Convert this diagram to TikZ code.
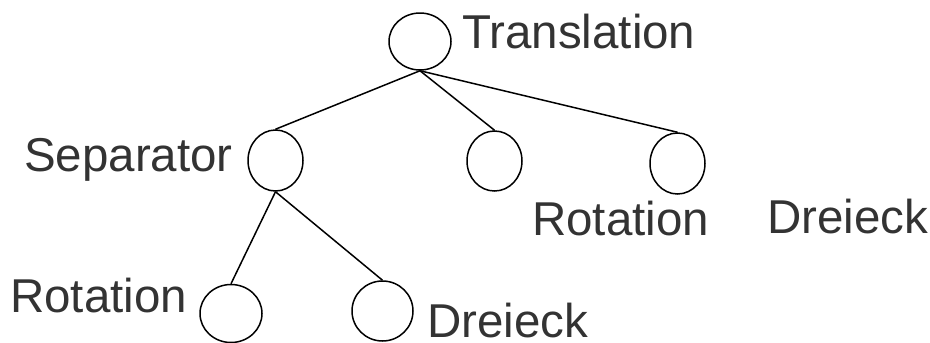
\documentclass[tikz,border=0pt]{standalone}
\usepackage{fontspec}
\setmainfont{Liberation Sans}
\usetikzlibrary{shapes.geometric}
\definecolor{txt}{HTML}{333333}
\begin{document}
\begin{tikzpicture}[x=1pt,y=-1pt,
  tnode/.style={draw=black,line width=1.5pt,ellipse,inner sep=0pt},
  lbl/.style={anchor=base west,inner sep=0pt,text=txt,font=\fontsize{47.5}{50}\selectfont},
  edge/.style={draw=black,line width=1.5pt}]
\useasboundingbox (0,0) rectangle (930,343);
\node[tnode,minimum width=62pt,minimum height=57pt] (T) at (420,41.5) {};
\node[tnode,minimum width=55pt,minimum height=61pt] (S) at (275.5,160.5) {};
\node[tnode,minimum width=55pt,minimum height=60pt] (R1) at (494.5,161) {};
\node[tnode,minimum width=55pt,minimum height=61pt] (D1) at (677.5,163.5) {};
\node[tnode,minimum width=62pt,minimum height=58pt] (R2) at (231,313.5) {};
\node[tnode,minimum width=61pt,minimum height=60pt] (D2) at (382.5,311) {};
\draw[edge] (T.south) -- (S.north);
\draw[edge] (T.south) -- (R1.north);
\draw[edge] (T.south) -- (D1.north);
\draw[edge] (S.south) -- (R2.north);
\draw[edge] (S.south) -- (D2.north);
\node[lbl] (lT) at (462,48) {Translation};
\node[lbl] (lS) at (24,171) {Separator};
\node[lbl] (lR1) at (532,235) {Rotation};
\node[lbl] (lD1) at (767,233) {Dreieck};
\node[lbl] (lR2) at (10,312) {Rotation};
\node[lbl] (lD2) at (427,337) {Dreieck};
\end{tikzpicture}
\end{document}
